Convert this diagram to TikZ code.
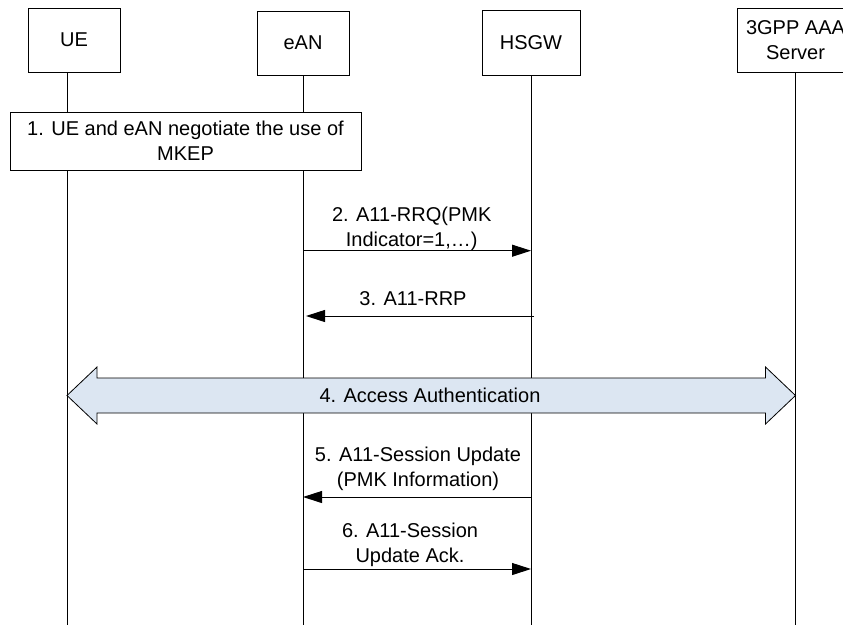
\documentclass[tikz,border=0pt]{standalone}
\usepackage{fontspec}
\setmainfont{Liberation Sans}
\usetikzlibrary{arrows.meta,calc}
\definecolor{authfill}{RGB}{220,230,242}
\begin{document}
\begin{tikzpicture}[x=1pt,y=-1pt,
  every node/.style={font=\fontsize{20}{25}\selectfont, inner sep=0pt},
  entity/.style={draw, line width=1pt, fill=white, align=center},
  lifeline/.style={line width=1pt},
  msg/.style={line width=1pt, -{Triangle[length=19pt,width=12pt]}},
  msglabel/.style={align=center},
  stepbox/.style={draw, line width=1pt, fill=white, align=center},
  bigarrow/.style={draw, line width=0.8pt, fill=authfill},
]
\useasboundingbox (0,0) rectangle (843,625);

% participants
\node[entity, minimum width=92pt, minimum height=64pt] (ue) at (74,40) {UE};
\node[entity, minimum width=92pt, minimum height=64pt] (ean) at (303,43) {eAN};
\node[entity, minimum width=98pt, minimum height=65pt] (hsgw) at (531,43) {HSGW};
\node[entity, minimum width=117pt, minimum height=64pt] (aaa) at (795.5,40.5) {3GPP AAA\\Server};

% lifelines
\coordinate (ueL) at (67,625);
\draw[lifeline] (ue.south -| ueL) -- (ueL);
\draw[lifeline] (ean.south) -- (ean |- ueL);
\draw[lifeline] (hsgw.south) -- (hsgw |- ueL);
\draw[lifeline] (aaa.south) -- (aaa |- ueL);

% step 1
\node[stepbox, minimum width=351pt, minimum height=58pt] (s1) at (185.5,141)
  {1. UE and eAN negotiate the use of\\MKEP};

% messages 2 and 3
\node[msglabel] (m2) at (411.7,228.5) {2. A11-RRQ(PMK\\Indicator=1,…)};
\draw[msg] (ean |- 0,250.7) -- (hsgw |- 0,250.7);
\node[msglabel] (m3) at (413,298.5) {3. A11-RRP};
\draw[msg] ($(hsgw |- 0,316)+(3,0)$) -- ($(ean |- 0,316)+(3,0)$);

% step 4: access authentication
\coordinate (authL) at (ueL |- 0,395.5);
\coordinate (authR) at (aaa |- 0,395.5);
\draw[bigarrow] (authL) -- ++(30,-28.5) -- ++(0,11)
  -- ($(authR)+(-30,-17.5)$) -- ++(0,-11) -- (authR)
  -- ++(-30,28.5) -- ++(0,-11)
  -- ($(authL)+(30,17.5)$) -- ++(0,11) -- cycle;
\node (m4) at (430,395.5) {4. Access Authentication};

% messages 5 and 6
\node[msglabel] (m5) at (418,469) {5. A11-Session Update\\(PMK Information)};
\draw[msg] (hsgw |- 0,497) -- (ean |- 0,497);
\node[msglabel] (m6) at (410,544.5) {6. A11-Session\\Update Ack.};
\draw[msg] (ean |- 0,569) -- (hsgw |- 0,569);
\end{tikzpicture}
\end{document}
